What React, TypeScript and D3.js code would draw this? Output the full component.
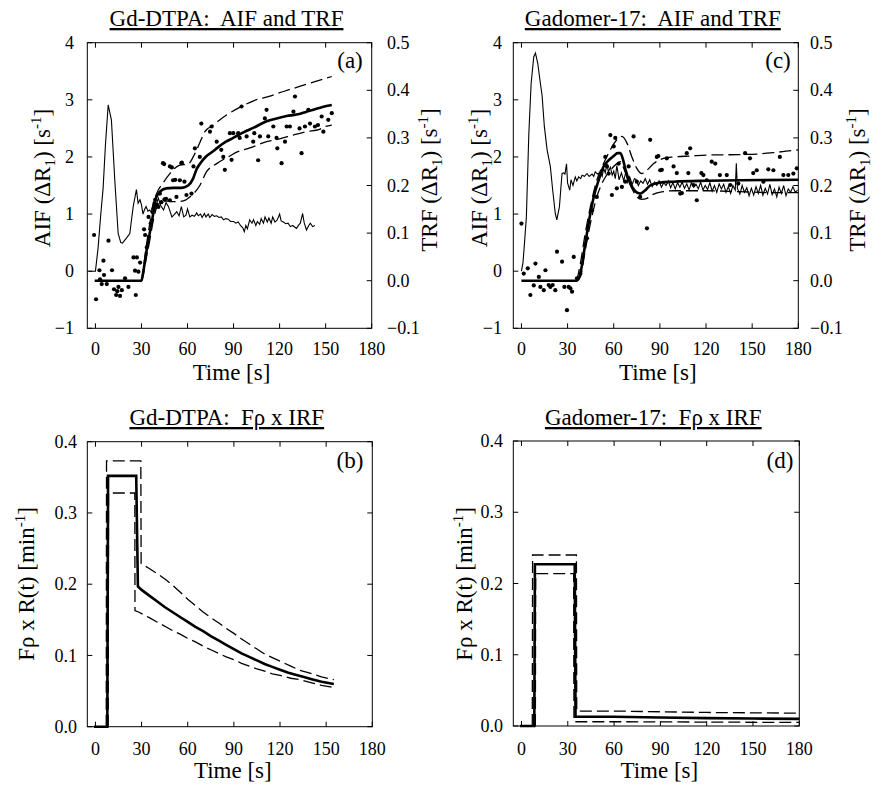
import React from 'react';
import * as d3 from 'd3';

type P = [number, number];

const timeTicks = [0, 30, 60, 90, 120, 150, 180];
const aifTicks = [-1, 0, 1, 2, 3, 4];
const trfTicks = [-0.1, 0, 0.1, 0.2, 0.3, 0.4, 0.5];
const irfTicks = [0, 0.1, 0.2, 0.3, 0.4];

const titles = ['Gd-DTPA:  AIF and TRF', 'Gadomer-17:  AIF and TRF', 'Gd-DTPA:  Fρ x IRF', 'Gadomer-17:  Fρ x IRF'];
const tags = ['(a)', '(c)', '(b)', '(d)'];

// Panel (a): Gd-DTPA arterial input (left axis, s^-1)
const aifA: P[] = [[-4.5,0],[0,0],[1.7,0.4],[3.5,1.0],[5,1.45],[6.5,2.2],[8.3,2.91],[10.4,2.65],[12.6,1.6],[14.8,0.66],[16.5,0.5],[17.6,0.49],[20.2,0.58],[22.4,0.66],[23.5,0.9],[24.6,1.13],[26.7,1.43],[27.8,1.19],[29,1.25],[30,1.16],[31,1.0],[32,1.08],[33,1.13],[34.2,1.05],[35.4,1.07],[36.5,1.02],[37.6,1.19],[39,1.1],[41,1.28],[42.5,1.15],[44.4,1.07],[46,1.2],[47.6,1.13],[49.8,0.95],[51,0.98],[53,1.04],[54.5,0.97],[56,1.13],[57.5,0.95],[59,0.98],[60,1.09],[61.5,0.95],[63,0.98],[64.5,0.96],[66,1.02],[67,0.97],[68.5,1.0],[69.5,0.94],[71,1.01],[72,0.95],[73.5,1.0],[74.5,0.94],[76,0.99],[77.5,0.96],[79,0.97],[80.5,0.94],[82,0.95],[83.5,0.9],[85,0.92],[86.5,0.91],[88,0.87],[90,0.87],[91.5,0.84],[93,0.86],[94.5,0.8],[96,0.76],[97,0.69],[98,0.8],[99,0.74],[100.5,0.9],[102,0.84],[103,0.9],[104.5,0.8],[105.5,0.87],[107,0.82],[108,0.92],[109.5,0.84],[110.5,0.95],[112,0.86],[113,0.93],[114.5,0.84],[115.5,0.95],[117,0.86],[118.5,0.9],[120,1.0],[121,0.88],[122.5,0.86],[124,0.83],[125.5,0.84],[127,0.78],[128.5,0.8],[130,0.77],[131,0.75],[132.5,0.81],[133.5,0.84],[135,1.01],[136,0.85],[137.5,0.72],[139,0.8],[140,0.84],[141.5,0.78],[143,0.8]];
// Panel (a): tissue data and fit (right axis, s^-1)
const fitA: P[] = [[-0.5,0],[30,0],[31,0.015],[33,0.057],[35.4,0.1],[37.6,0.14],[39,0.17],[42,0.187],[46,0.194],[50.6,0.195],[56,0.195],[60.4,0.2],[63.7,0.215],[66,0.235],[68,0.245],[72.4,0.262],[76.7,0.272],[79,0.278],[85,0.292],[89.8,0.3],[92,0.304],[98.5,0.315],[102.8,0.321],[111.5,0.335],[118,0.341],[124.6,0.346],[131,0.349],[137.6,0.355],[142,0.359],[148,0.365],[154,0.369]];
const upA: P[] = [[30,0],[31,0.02],[33,0.07],[35.4,0.12],[37.6,0.16],[40,0.184],[44,0.205],[48.5,0.225],[55,0.243],[60.4,0.245],[63.7,0.26],[68,0.29],[71.3,0.313],[76.7,0.327],[85.4,0.348],[94,0.364],[103,0.378],[113.7,0.388],[123,0.398],[133,0.408],[143,0.418],[154,0.429]];
const loA: P[] = [[30,0],[31,0.01],[33,0.045],[35.4,0.085],[37.6,0.125],[40,0.155],[42,0.163],[44,0.168],[48.5,0.166],[52.8,0.166],[59,0.17],[61.5,0.176],[63.7,0.182],[68,0.2],[72.4,0.229],[79,0.246],[87.6,0.262],[92,0.27],[100.6,0.279],[111.5,0.292],[120,0.298],[129,0.306],[137.6,0.313],[146,0.318],[150,0.324],[154,0.327]];
const dotsA: P[] = [[-0.9,0.096],[0.4,-0.039],[2.6,0.022],[3,0.003],[4.1,-0.007],[5.2,0.042],[5.6,0.012],[7.4,-0.007],[8.5,0.084],[10.8,0.022],[12.1,-0.018],[13.5,-0.03],[14.2,-0.022],[15,-0.013],[16,-0.032],[17.2,-0.02],[19.3,0.005],[21.5,-0.013],[24.8,0.049],[25.8,0.021],[26.3,-0.03],[27,0.049],[28,0.019],[29.1,0.038],[31.7,0.108],[32.4,0.096],[33.5,0.07],[34.6,0.134],[36,0.12],[37.8,0.152],[38.9,0.17],[40,0.16],[41,0.155],[42,0.183],[43,0.165],[44,0.247],[44.8,0.245],[45,0.171],[46,0.172],[48.5,0.24],[48.5,0.169],[49.8,0.238],[50.6,0.211],[52,0.212],[52.8,0.176],[55,0.211],[56,0.247],[56.3,0.248],[58,0.208],[59.3,0.18],[62.6,0.183],[64.8,0.278],[63.9,0.24],[68,0.26],[69,0.33],[74.6,0.313],[75.7,0.324],[79,0.292],[82,0.275],[83.3,0.26],[84.3,0.233],[88.7,0.254],[87.6,0.31],[89.8,0.31],[93,0.31],[94,0.3],[95.2,0.366],[98.5,0.303],[102.8,0.292],[103.5,0.31],[106,0.253],[107.2,0.303],[110.4,0.341],[111.5,0.359],[112.6,0.303],[115.9,0.324],[118,0.3],[118.5,0.278],[121.3,0.247],[123.5,0.292],[124.6,0.324],[126.7,0.324],[129,0.355],[130,0.387],[133,0.32],[134.3,0.268],[136.5,0.324],[138.7,0.359],[139.8,0.33],[143,0.324],[145,0.327],[147.4,0.345],[148.5,0.313],[151.7,0.338],[154,0.352]];

// Panel (c): Gadomer-17
const aifC: P[] = [[0,0],[1,0.15],[2,0.5],[3.2,0.95],[4.8,2.41],[6.3,3.29],[8,3.75],[9.1,3.82],[10.6,3.64],[12.3,3.29],[13.4,3.08],[14.9,2.53],[16.7,2.12],[18.8,1.83],[20.3,1.42],[22,1.01],[23,0.9],[24.7,1.13],[25.7,1.48],[26.4,1.71],[27.5,1.72],[28.3,1.7],[29.3,1.88],[30,1.54],[31.4,1.42],[32.2,1.6],[33.5,1.5],[35,1.65],[36,1.58],[37.2,1.65],[38.5,1.62],[39.4,1.68],[41,1.66],[42.6,1.71],[44,1.66],[45.9,1.7],[47,1.66],[48,1.74],[49.5,1.7],[51.3,1.73],[52.5,1.66],[53.4,1.8],[54.5,1.72],[55.6,1.89],[56.5,1.74],[57.8,1.82],[59,1.68],[60,1.75],[61,1.62],[62,1.85],[63.5,1.6],[65,1.72],[66.5,1.58],[68,1.75],[69,1.56],[70.4,1.65],[72,1.52],[73.5,1.62],[74.7,1.6],[76,1.5],[77.5,1.58],[79,1.54],[80.5,1.62],[82,1.52],[83.4,1.6],[85,1.48],[86.5,1.56],[88,1.5],[89.5,1.58],[91,1.47],[92.5,1.55],[94,1.5],[95.5,1.58],[97,1.46],[98.5,1.55],[100,1.44],[101.5,1.55],[103,1.47],[104.5,1.56],[106,1.45],[107.5,1.53],[109,1.42],[110.5,1.55],[112,1.47],[113.5,1.52],[115,1.44],[116.5,1.56],[118,1.42],[119.5,1.5],[121,1.43],[122.5,1.55],[124,1.4],[125.5,1.5],[127,1.38],[128.5,1.53],[130,1.44],[131.5,1.52],[133,1.38],[134.5,1.48],[136,1.36],[137.5,1.5],[139,1.42],[139.7,1.89],[140.4,1.45],[142,1.35],[143.5,1.5],[145,1.38],[146.5,1.46],[148,1.32],[149.5,1.45],[151,1.33],[152.5,1.48],[154,1.36],[155.5,1.5],[157,1.33],[158.5,1.45],[160,1.35],[161.5,1.52],[163,1.34],[164.5,1.44],[166,1.3],[167.5,1.47],[169,1.36],[170.5,1.5],[172,1.32],[173.5,1.44],[175,1.38],[176.5,1.48],[178,1.38],[179.5,1.42]];
const fitC: P[] = [[0,0],[36,0],[38.3,0.015],[40.5,0.057],[42.6,0.1],[44.8,0.141],[47,0.176],[50.2,0.211],[53.4,0.24],[56.7,0.253],[60,0.262],[62.5,0.268],[64.3,0.268],[66,0.255],[67.5,0.235],[70.7,0.205],[74,0.188],[77.2,0.183],[80.5,0.19],[83.7,0.2],[90,0.206],[98.9,0.208],[120.5,0.21],[142,0.211],[180,0.212]];
const upC: P[] = [[36,0],[38.3,0.036],[41.5,0.1],[44.8,0.155],[49,0.211],[53.4,0.246],[57.8,0.275],[62,0.296],[65.3,0.303],[68.6,0.289],[71.8,0.26],[75,0.236],[78.3,0.225],[81.6,0.232],[86,0.246],[92.4,0.257],[99,0.26],[110,0.262],[120.5,0.264],[142,0.265],[153,0.266],[163.8,0.269],[172,0.272],[180,0.275]];
const loC: P[] = [[36,0],[38.3,0.008],[41.5,0.064],[44.8,0.12],[49,0.176],[53.4,0.211],[57.8,0.232],[62,0.246],[64.3,0.25],[66,0.24],[68.6,0.218],[71.8,0.194],[75,0.176],[78.3,0.171],[81.6,0.173],[86,0.182],[92.4,0.187],[99,0.189],[120.5,0.189],[142,0.187],[163.8,0.185],[180,0.185]];
const dotsC: P[] = [[0,0.12],[1.5,0.015],[4.1,0.026],[5.8,-0.03],[8,-0.01],[9.1,0.036],[11.3,0.008],[12.3,-0.013],[14.5,-0.02],[15.6,0.022],[17.7,-0.009],[18.8,-0.013],[20.3,-0.009],[22,-0.02],[23.1,0.061],[26.4,0.04],[27.9,-0.013],[29.6,-0.062],[30.7,-0.013],[31.8,-0.016],[32.9,-0.023],[34,0.05],[36.1,0.005],[38.3,0.015],[42.6,0.089],[45.9,0.148],[49,0.176],[54.5,0.26],[55.6,0.24],[56.7,0.225],[57.8,0.306],[58.8,0.18],[60,0.282],[61,0.3],[62,0.194],[63.2,0.246],[65.3,0.197],[67.5,0.208],[69.7,0.24],[72.9,0.303],[75,0.208],[77.2,0.176],[81.6,0.11],[83.7,0.296],[88,0.26],[89,0.262],[90.2,0.232],[91.3,0.233],[94.5,0.257],[98.9,0.24],[101,0.226],[103.2,0.183],[104.3,0.184],[107.5,0.268],[108.5,0.226],[109.7,0.278],[111.9,0.201],[114,0.169],[117,0.226],[118.3,0.222],[120.5,0.211],[123.7,0.25],[126,0.246],[129,0.222],[133.5,0.222],[135.7,0.201],[141,0.204],[145.4,0.268],[148.6,0.257],[150.7,0.226],[153,0.232],[157.3,0.208],[160.5,0.234],[163.8,0.232],[168,0.26],[170.3,0.222],[173.5,0.222],[176.8,0.225],[179,0.236]];

// Panel (b): Gd-DTPA impulse response (min^-1)
const irfB: P[] = [[-1,0],[7.7,0],[8.2,0.352],[26.5,0.352],[27.6,0.197],[30,0.192],[35,0.184],[40,0.176],[45,0.168],[50,0.161],[55,0.154],[60,0.147],[65,0.14],[70,0.134],[75,0.127],[80,0.121],[85,0.115],[90,0.109],[95,0.103],[100,0.098],[105,0.093],[110,0.088],[115,0.084],[120,0.08],[125,0.076],[130,0.073],[135,0.07],[140,0.067],[147,0.063],[155,0.06]];
const irfBUp: P[] = [[7,0],[7.2,0.373],[29.5,0.373],[29.7,0.229],[35,0.222],[40,0.215],[46,0.206],[50,0.199],[55,0.189],[60,0.179],[65,0.17],[70,0.161],[75,0.153],[80,0.146],[85,0.138],[90,0.131],[95,0.123],[100,0.116],[105,0.109],[110,0.102],[115,0.097],[120,0.092],[127,0.085],[133,0.079],[140,0.075],[147,0.07],[155,0.066]];
const irfBLo: P[] = [[8.3,0],[8.5,0.328],[25.6,0.328],[25.7,0.163],[28,0.161],[35,0.153],[40,0.147],[46,0.14],[50,0.135],[55,0.13],[60,0.124],[65,0.119],[70,0.113],[75,0.108],[80,0.103],[85,0.098],[90,0.094],[95,0.089],[100,0.085],[105,0.081],[110,0.078],[115,0.074],[120,0.072],[127,0.068],[133,0.066],[140,0.062],[147,0.058],[155,0.055]];
// Panel (d): Gadomer-17 impulse response
const irfD: P[] = [[-1,0],[8.3,0],[8.7,0.227],[34.5,0.227],[35,0.013],[60,0.013],[90,0.012],[120,0.011],[150,0.0105],[180,0.01]];
const irfDUp: P[] = [[7,0],[7.2,0.24],[35.6,0.24],[35.8,0.021],[60,0.021],[120,0.019],[180,0.018]];
const irfDLo: P[] = [[9,0],[9.2,0.214],[33.8,0.214],[34,0.006],[60,0.006],[180,0.005]];

const FONT = '"Liberation Serif", "Times New Roman", Times, serif';
const TICK = 5;
const DASH = '12,5';

type Box = { x0: number; x1: number; y0: number; y1: number };

function Frame({ box, xs, ysL, ysR, lTicks, rTicks, lFmt, rFmt, lEnd, rStart, xLabY, xTitleX, xTitleY }: any) {
  const { x0, x1, y0, y1 } = box;
  return (
    <g>
      <rect x={x0} y={y0} width={x1 - x0} height={y1 - y0} fill="none" stroke="#000" strokeWidth={1} />
      {timeTicks.map((t) => (
        <g key={'t' + t}>
          <line x1={xs(t)} x2={xs(t)} y1={y1} y2={y1 - TICK} stroke="#000" />
          <line x1={xs(t)} x2={xs(t)} y1={y0} y2={y0 + TICK} stroke="#000" />
          <text x={xs(t)} y={xLabY} textAnchor="middle" fontSize={18}>{t}</text>
        </g>
      ))}
      {lTicks.map((v: number) => (
        <g key={'l' + v}>
          <line x1={x0} x2={x0 + TICK} y1={ysL(v)} y2={ysL(v)} stroke="#000" />
          <text x={lEnd} y={ysL(v)} dy="0.34em" textAnchor="end" fontSize={18}>{lFmt(v)}</text>
        </g>
      ))}
      {rTicks.map((v: number) => (
        <g key={'r' + v}>
          <line x1={x1} x2={x1 - TICK} y1={ysR(v)} y2={ysR(v)} stroke="#000" />
          {rFmt ? <text x={rStart} y={ysR(v)} dy="0.34em" textAnchor="start" fontSize={18}>{rFmt(v)}</text> : null}
        </g>
      ))}
      <text x={xTitleX} y={xTitleY} textAnchor="middle" fontSize={23}>Time [s]</text>
    </g>
  );
}

function Title({ x, y, text }: any) {
  return (
    <text x={x} y={y} textAnchor="middle" fontSize={23} textDecoration="underline" style={{ whiteSpace: 'pre' }}>{text}</text>
  );
}

function YLabel({ x, y, main, sub, unit, sup }: any) {
  return (
    <text transform={`translate(${x},${y}) rotate(-90)`} textAnchor="middle" fontSize={23}>
      {main}
      {sub ? <tspan dy={5} fontSize={15}>{sub}</tspan> : null}
      <tspan dy={sub ? -5 : 0}>{unit}</tspan>
      <tspan dy={-9} fontSize={15}>{sup}</tspan>
      <tspan dy={9}>]</tspan>
    </text>
  );
}

const fmtInt = (v: number) => d3.format('d')(v);
const fmt1 = (v: number) => d3.format('.1f')(v);

function TopPanel({ box, aif, fit, up, lo, dots, lEnd, rStart, title, tag, labL, labR, tagX }: any) {
  const xs = d3.scaleLinear().domain([-5.3, 180]).range([box.x0, box.x1]);
  const yL = d3.scaleLinear().domain([-1, 4]).range([box.y1, box.y0]);
  const yR = d3.scaleLinear().domain([-0.1, 0.5]).range([box.y1, box.y0]);
  const lineL = d3.line<P>().x((d) => xs(d[0])).y((d) => yL(d[1]));
  const lineR = d3.line<P>().x((d) => xs(d[0])).y((d) => yR(d[1])).curve(d3.curveMonotoneX);
  const cx = (box.x0 + box.x1) / 2;
  return (
    <g>
      <Title x={cx - 3} y={26} text={title} />
      <Frame box={box} xs={xs} ysL={yL} ysR={yR} lTicks={aifTicks} rTicks={trfTicks} lFmt={fmtInt} rFmt={fmt1}
        lEnd={lEnd} rStart={rStart} xLabY={355} xTitleX={cx + 2} xTitleY={380} />
      <YLabel x={labL} y={178} main="AIF (ΔR" sub="1" unit=") [s" sup="-1" />
      <YLabel x={labR} y={180} main="TRF (ΔR" sub="1" unit=") [s" sup="-1" />
      <text x={tagX} y={68} textAnchor="middle" fontSize={23}>{tag}</text>
      <path d={lineL(aif) || ''} fill="none" stroke="#000" strokeWidth={1.1} />
      <path d={lineR(up) || ''} fill="none" stroke="#000" strokeWidth={1.3} strokeDasharray={DASH} />
      <path d={lineR(lo) || ''} fill="none" stroke="#000" strokeWidth={1.3} strokeDasharray={DASH} />
      <path d={lineR(fit) || ''} fill="none" stroke="#000" strokeWidth={2.6} />
      {dots.map((d: P, i: number) => (
        <circle key={i} cx={xs(d[0])} cy={yR(d[1])} r={2.1} fill="#000" />
      ))}
    </g>
  );
}

function BottomPanel({ box, irf, up, lo, lEnd, title, tag, labL, tagX }: any) {
  const xs = d3.scaleLinear().domain([-5.3, 180]).range([box.x0, box.x1]);
  const y = d3.scaleLinear().domain([0, 0.4]).range([box.y1, box.y0]);
  const line = d3.line<P>().x((d) => xs(d[0])).y((d) => y(d[1]));
  const cx = (box.x0 + box.x1) / 2;
  return (
    <g>
      <Title x={cx - 3} y={425} text={title} />
      <Frame box={box} xs={xs} ysL={y} ysR={y} lTicks={irfTicks} rTicks={irfTicks} lFmt={fmt1} rFmt={null}
        lEnd={lEnd} rStart={0} xLabY={755} xTitleX={cx + 3} xTitleY={778} />
      <YLabel x={labL} y={584} main="Fρ x R(t) [min" sub={null} unit="" sup="-1" />
      <text x={tagX} y={468} textAnchor="middle" fontSize={23}>{tag}</text>
      <path d={line(up) || ''} fill="none" stroke="#000" strokeWidth={1.3} strokeDasharray={DASH} />
      <path d={line(lo) || ''} fill="none" stroke="#000" strokeWidth={1.3} strokeDasharray={DASH} />
      <path d={line(irf) || ''} fill="none" stroke="#000" strokeWidth={2.6} />
    </g>
  );
}

export default function App() {
  const boxA: Box = { x0: 87.3, x1: 371.7, y0: 42.7, y1: 328.3 };
  const boxC: Box = { x0: 513.3, x1: 798.3, y0: 42.7, y1: 328.3 };
  const boxB: Box = { x0: 87.3, x1: 372.3, y0: 441.7, y1: 726.7 };
  const boxD: Box = { x0: 513.3, x1: 799.3, y0: 441, y1: 726 };
  return (
    <svg width={881} height={787} viewBox="0 0 881 787"
      style={{ position: 'absolute', left: 0, top: 0, background: '#fff', fontFamily: FONT }}>
      <rect x={0} y={0} width={881} height={787} fill="#fff" />
      <TopPanel box={boxA} aif={aifA} fit={fitA} up={upA} lo={loA} dots={dotsA} lEnd={74} rStart={387}
        title={titles[0]} tag={tags[0]} labL={50} labR={437} tagX={350} />
      <TopPanel box={boxC} aif={aifC} fit={fitC} up={upC} lo={loC} dots={dotsC} lEnd={502} rStart={810}
        title={titles[1]} tag={tags[1]} labL={487} labR={865} tagX={778} />
      <BottomPanel box={boxB} irf={irfB} up={irfBUp} lo={irfBLo} lEnd={77} title={titles[2]} tag={tags[2]} labL={34} tagX={350} />
      <BottomPanel box={boxD} irf={irfD} up={irfDUp} lo={irfDLo} lEnd={503} title={titles[3]} tag={tags[3]} labL={472} tagX={780} />
    </svg>
  );
}
